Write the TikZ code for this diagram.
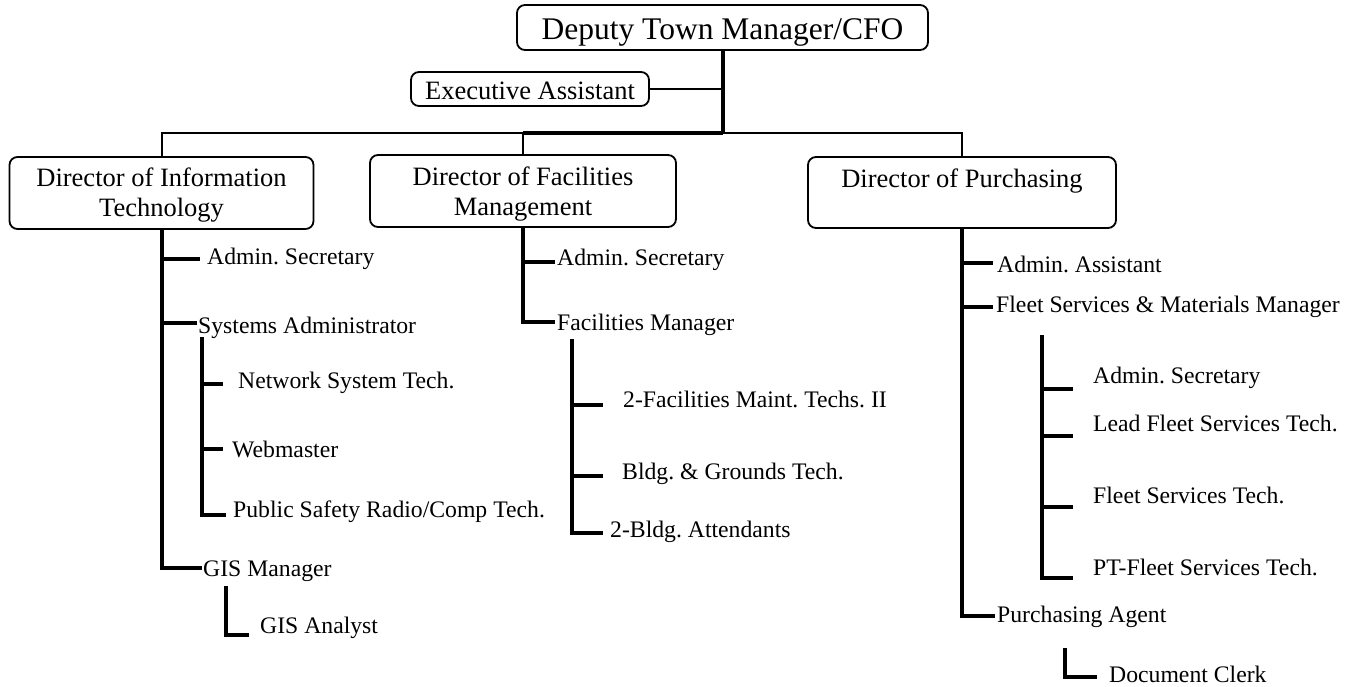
\documentclass[tikz,border=0pt]{standalone}
\usepackage{fontspec}
\setmainfont{Liberation Serif}
\frenchspacing
\begin{document}
\begin{tikzpicture}[x=1pt,y=-1pt,
  box/.style={draw, line width=1.8pt, rounded corners=8pt, inner sep=0pt},
  toptext/.style={font=\fontsize{31.5}{34}\selectfont},
  dirtext/.style={font=\fontsize{26.5}{30}\selectfont, align=center},
  lbl/.style={anchor=base west, inner sep=0pt, font=\fontsize{23.7}{26}\selectfont},
  bus/.style={line width=2pt},
  busthick/.style={line width=4pt},
  trunk/.style={line width=3.5pt},
  bar/.style={line width=3.2pt, line join=miter},
  br/.style={line width=3.2pt},
]
\useasboundingbox (0,0) rectangle (1359,687);

% boxes
\node[box, toptext, minimum width=411pt, minimum height=45pt, text height=25pt, text depth=0pt] (dtm) at (722.5,27.5) {Deputy Town Manager/CFO};
\node[box, font=\fontsize{26.5}{30}\selectfont, minimum width=238pt, minimum height=34pt, text height=22pt, text depth=0pt] (ea) at (530,89) {Executive Assistant};
\node[box, dirtext, minimum width=304pt, minimum height=72pt] (dit) at (161.5,193) {\rule{0pt}{22pt}Director of Information\\Technology};
\node[box, dirtext, minimum width=306pt, minimum height=72pt] (dfm) at (523,191) {\rule{0pt}{24pt}Director of Facilities\\Management};
\node[box, dirtext, minimum width=308pt, minimum height=71pt, text height=8pt, text depth=19pt] (dp) at (962,192.5) {Director of Purchasing};

% labels
\node[lbl] (as1) at (207,264) {Admin. Secretary};
\node[lbl] (sa) at (198,333) {Systems Administrator};
\node[lbl] (nst) at (238,388) {Network System Tech.};
\node[lbl] (web) at (232,457) {Webmaster};
\node[lbl] (ps) at (233,517) {Public Safety Radio/Comp Tech.};
\node[lbl] (gism) at (203,576) {GIS Manager};
\node[lbl] (gisa) at (260,633) {GIS Analyst};

\node[lbl] (as2) at (557,265) {Admin. Secretary};
\node[lbl] (fm) at (557,330) {Facilities Manager};
\node[lbl] (fmt) at (623,407) {2-Facilities Maint. Techs. II};
\node[lbl] (bgt) at (622,479) {Bldg. \& Grounds Tech.};
\node[lbl] (ba) at (610,537) {2-Bldg. Attendants};

\node[lbl] (aa) at (997,272) {Admin. Assistant};
\node[lbl] (fsm) at (996,312) {Fleet Services \& Materials Manager};
\node[lbl] (as3) at (1093,383) {Admin. Secretary};
\node[lbl] (lfs) at (1093,431) {Lead Fleet Services Tech.};
\node[lbl] (fst) at (1093,503) {Fleet Services Tech.};
\node[lbl] (pt) at (1093,575) {PT-Fleet Services Tech.};
\node[lbl] (pa) at (997,622) {Purchasing Agent};
\node[lbl] (dc) at (1109,682) {Document Clerk};

% bus coordinates
\coordinate (bL) at (162,133);
\coordinate (bM) at (523,133);
\coordinate (bT) at (723,133);
\coordinate (bR) at (962,133);

% top connectors
\draw[trunk] (dtm.south -| bT) -- (bT);
\draw[bus] (ea.east) -- (ea.east -| bT);
\draw[busthick] (bM) -- (bT);
\draw[bus] (dit.north -| bL) -- (bL) -- (bM) -- (dfm.north -| bM);
\draw[bus] (bT) -- (bR) -- (dp.north -| bR);

% IT
\draw[bar] (dit.south -| bL) -- (162,568) -- (202,568);
\draw[br] (162,259) -- (200,259);
\draw[br] (162,323) -- (197,323);
\draw[bar] (202,337) -- (202,515) -- (226,515);
\draw[br] (202,384) -- (223,384);
\draw[br] (202,449) -- (223,449);
\draw[bar] (226,586) -- (226,635) -- (249,635);

% Facilities
\draw[bar] (dfm.south -| bM) -- (523,322) -- (555,322);
\draw[br] (523,262) -- (555,262);
\draw[bar] (572,339) -- (572,533) -- (603,533);
\draw[br] (572,405) -- (603,405);
\draw[br] (572,476) -- (603,476);

% Purchasing
\draw[bar] (dp.south -| bR) -- (962,616) -- (995,616);
\draw[br] (962,263) -- (993,263);
\draw[br] (962,307) -- (993,307);
\draw[bar] (1042,335) -- (1042,578) -- (1073,578);
\draw[br] (1042,389) -- (1073,389);
\draw[br] (1042,436) -- (1073,436);
\draw[br] (1042,507) -- (1073,507);
\draw[bar] (1065,648) -- (1065,677) -- (1097,677);
\end{tikzpicture}
\end{document}
